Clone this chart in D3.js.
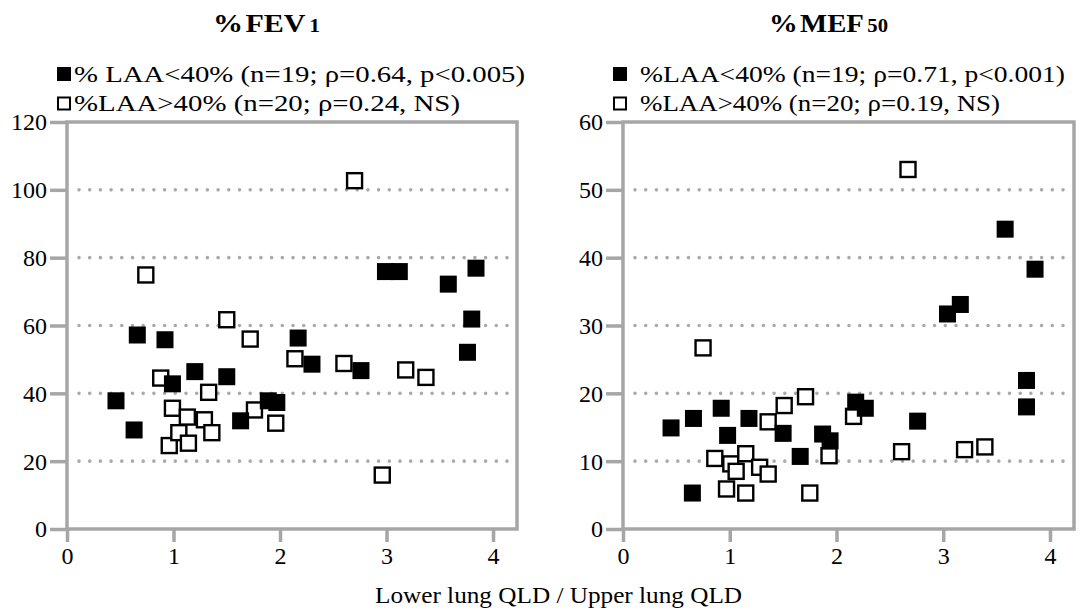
<!DOCTYPE html>
<html>
<head>
<meta charset="utf-8">
<script src="https://cdn.jsdelivr.net/npm/d3@7"></script>
<style>
body { margin: 0; background: #fff; }
text { font-family: "Liberation Serif", "Times New Roman", Tinos, serif; }
</style>
</head>
<body>
<div id="chart"></div>
<script>
// Lower lung QLD / Upper lung QLD vs %FEV1, %LAA < 40% (filled squares)
var fevLowX = [0.46, 0.63, 0.66, 0.92, 0.99, 1.20, 1.50, 1.63, 1.89, 1.97, 2.17, 2.30, 2.76, 2.99, 3.12, 3.58, 3.76, 3.80, 3.84];
var fevLowY = [37.8, 29.2, 57.2, 55.8, 42.8, 46.4, 44.9, 31.9, 37.8, 37.3, 56.3, 48.6, 46.7, 75.9, 75.9, 72.2, 52.1, 61.9, 76.9];
// %FEV1, %LAA > 40% (open squares)
var fevHighX = [0.74, 0.88, 0.96, 0.99, 1.05, 1.13, 1.14, 1.29, 1.33, 1.36, 1.50, 1.72, 1.76, 1.96, 2.14, 2.60, 2.70, 2.96, 3.18, 3.37];
var fevHighY = [74.9, 44.5, 24.6, 35.6, 28.4, 33.0, 25.3, 32.2, 40.3, 28.4, 61.7, 56.0, 35.1, 31.2, 50.2, 48.8, 102.7, 15.9, 46.9, 44.7];

// %MEF50, %LAA < 40%
var mefLowX = [0.45, 0.65, 0.66, 0.92, 0.98, 1.18, 1.50, 1.66, 1.87, 1.94, 2.18, 2.27, 2.76, 3.04, 3.16, 3.58, 3.78, 3.78, 3.86];
var mefLowY = [14.9, 5.3, 16.3, 17.8, 13.8, 16.3, 14.1, 10.7, 14.0, 13.0, 18.7, 17.8, 15.9, 31.7, 33.1, 44.2, 21.9, 18.0, 38.3];
// %MEF50, %LAA > 40%
var mefHighX = [0.75, 0.86, 0.97, 1.01, 1.06, 1.15, 1.15, 1.28, 1.36, 1.36, 1.51, 1.71, 1.75, 1.93, 2.16, 2.61, 2.67, 3.20, 3.39];
var mefHighY = [26.7, 10.4, 5.9, 9.6, 8.5, 11.1, 5.3, 9.1, 8.1, 15.8, 18.2, 19.5, 5.3, 10.8, 16.6, 11.4, 53.0, 11.7, 12.1];

// ticks and gridlines
var xTicks = [0, 1, 2, 3, 4];
var fevTicks = [0, 20, 40, 60, 80, 100, 120];
var fevGrid = [20, 40, 60, 80, 100];
var mefTicks = [0, 10, 20, 30, 40, 50, 60];
var mefGrid = [10, 20, 30, 40, 50];

var fevLegend = ["% LAA<40% (n=19; \u03c1=0.64, p<0.005)", "%LAA>40% (n=20; \u03c1=0.24, NS)"];
var mefLegend = ["%LAA<40% (n=19; \u03c1=0.71, p<0.001)", "%LAA>40% (n=20; \u03c1=0.19, NS)"];

var grey = "#a6a6a6";
var serif = "Liberation Serif";
var top_y = 122, bottom_y = 529;

var svg = d3.select("#chart").append("svg")
    .attr("width", 1082)
    .attr("height", 610);

function zip(xs, ys) {
    return xs.map((v, i) => ({x: v, y: ys[i]}));
}

function drawPanel(p) {
    var xScale = d3.scaleLinear().domain([0, 4.225]).range([p.left, p.right]);
    var yScale = d3.scaleLinear().domain([0, p.yMax]).range([bottom_y, top_y]);

    var g = svg.append("g");

    // dotted gridlines
    g.selectAll(".grid")
        .data(p.grid)
        .enter().append("line")
        .attr("x1", p.left + 12)
        .attr("x2", p.right - 10)
        .attr("y1", d => yScale(d))
        .attr("y2", d => yScale(d))
        .attr("stroke", "#aaaaaa")
        .attr("stroke-width", 3.6)
        .attr("stroke-linecap", "round")
        .attr("stroke-dasharray", "0 10.7");

    // y axis
    var yAxis = g.append("g")
        .attr("transform", "translate(" + p.left + ",0)")
        .call(d3.axisLeft(yScale).tickValues(p.yTicks).tickFormat(d3.format("d"))
            .tickSize(17).tickPadding(3).tickSizeOuter(0))
        .attr("font-size", 24)
        .attr("font-family", serif);
    yAxis.select(".domain").remove();
    yAxis.selectAll("line").attr("stroke", grey).attr("stroke-width", 3.5);
    yAxis.selectAll("text").attr("fill", "#000").attr("dy", "0.33em");

    // x axis
    var xAxis = g.append("g")
        .attr("transform", "translate(0," + bottom_y + ")")
        .call(d3.axisBottom(xScale).tickValues(xTicks).tickFormat(d3.format("d"))
            .tickSize(13).tickPadding(5).tickSizeOuter(0))
        .attr("font-size", 24)
        .attr("font-family", serif);
    xAxis.select(".domain").remove();
    xAxis.selectAll("line").attr("stroke", grey).attr("stroke-width", 3.5);
    xAxis.selectAll("text").attr("fill", "#000");

    // frame
    g.append("rect")
        .attr("x", p.left)
        .attr("y", top_y)
        .attr("width", p.right - p.left)
        .attr("height", bottom_y - top_y)
        .attr("fill", "none")
        .attr("stroke", grey)
        .attr("stroke-width", 3.5);

    // open squares (%LAA > 40%)
    g.append("g").selectAll("rect")
        .data(zip(p.highX, p.highY))
        .enter().append("rect")
        .attr("x", d => xScale(d.x) - 7.5)
        .attr("y", d => yScale(d.y) - 7.5)
        .attr("width", 15)
        .attr("height", 15)
        .attr("fill", "#fff")
        .attr("stroke", "#000")
        .attr("stroke-width", 2.4);

    // filled squares (%LAA < 40%)
    g.append("g").selectAll("rect")
        .data(zip(p.lowX, p.lowY))
        .enter().append("rect")
        .attr("x", d => xScale(d.x) - 8.5)
        .attr("y", d => yScale(d.y) - 8.5)
        .attr("width", 17)
        .attr("height", 17)
        .attr("fill", "#000");

    // title
    var title = g.append("text")
        .attr("x", p.titleX)
        .attr("y", 32)
        .attr("font-family", serif)
        .attr("font-weight", "bold")
        .attr("font-size", 25)
        .attr("textLength", p.titleW)
        .attr("lengthAdjust", "spacingAndGlyphs");
    title.append("tspan").text("%");
    title.append("tspan").attr("dx", 2).text(p.title);
    title.append("tspan").attr("dx", 3).attr("font-size", 18).text(p.sub);

    // legend
    g.append("rect")
        .attr("x", p.legSq).attr("y", 67)
        .attr("width", 14).attr("height", 14)
        .attr("fill", "#000");
    g.append("rect")
        .attr("x", p.legSq + 1).attr("y", 97.5)
        .attr("width", 12).attr("height", 12)
        .attr("fill", "#fff")
        .attr("stroke", "#000")
        .attr("stroke-width", 2);
    g.selectAll(".leg")
        .data(p.legend)
        .enter().append("text")
        .attr("x", p.legX)
        .attr("y", (d, i) => 82 + i * 28.5)
        .attr("font-family", serif)
        .attr("font-size", 24)
        .attr("textLength", (d, i) => p.legW[i])
        .attr("lengthAdjust", "spacingAndGlyphs")
        .text(d => d);
}

drawPanel({
    left: 67, right: 517, yMax: 120,
    yTicks: fevTicks, grid: fevGrid,
    lowX: fevLowX, lowY: fevLowY, highX: fevHighX, highY: fevHighY,
    title: "FEV", sub: "1", titleX: 213, titleW: 107,
    legend: fevLegend, legSq: 57, legX: 74, legW: [451, 386]
});

drawPanel({
    left: 623, right: 1074, yMax: 60,
    yTicks: mefTicks, grid: mefGrid,
    lowX: mefLowX, lowY: mefLowY, highX: mefHighX, highY: mefHighY,
    title: "MEF", sub: "50", titleX: 769, titleW: 119,
    legend: mefLegend, legSq: 613, legX: 640, legW: [425, 360]
});

// shared x axis label
svg.append("text")
    .attr("x", 375)
    .attr("y", 603)
    .attr("font-family", serif)
    .attr("font-size", 24)
    .attr("textLength", 367)
    .attr("lengthAdjust", "spacingAndGlyphs")
    .text("Lower lung QLD / Upper lung QLD");
</script>
</body>
</html>
